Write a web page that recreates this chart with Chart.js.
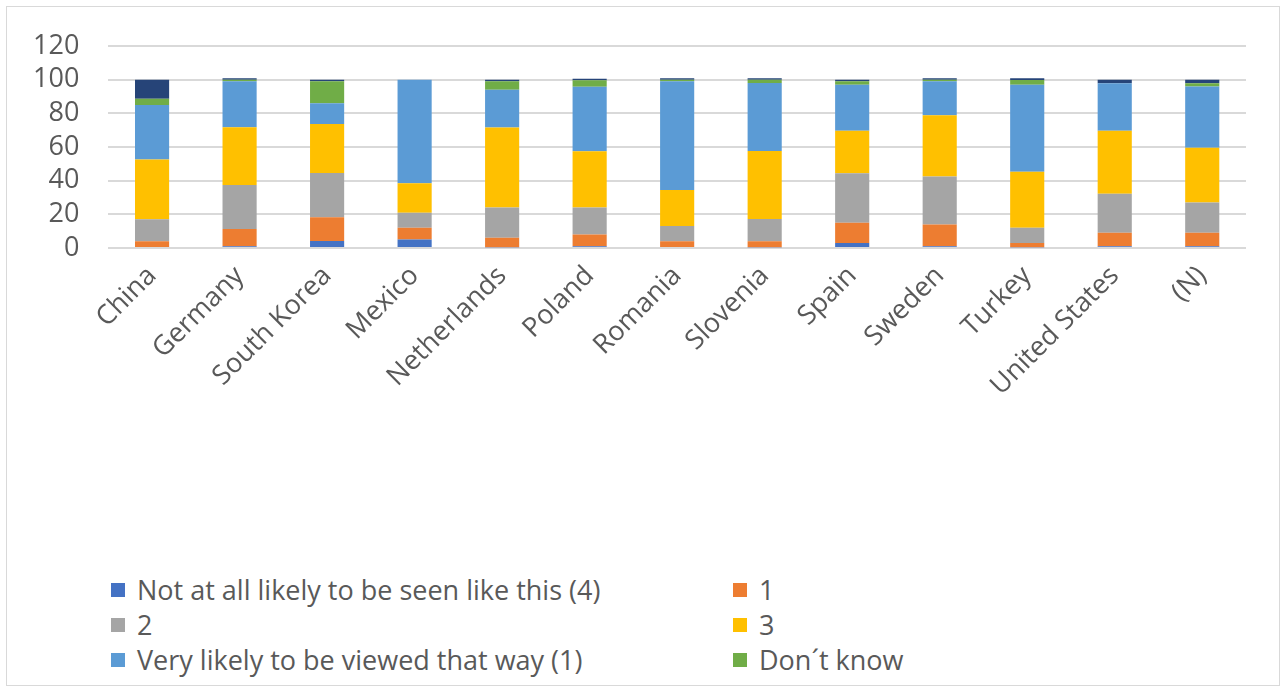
<!DOCTYPE html>
<html lang="en">
<head>
  <meta charset="UTF-8" />
  <title>Likelihood by country</title>
  <script src="https://cdn.jsdelivr.net/npm/chart.js"></script>
  <style>
    body { margin: 0; background: #fff; font-family: "Open Sans", sans-serif; }
    #wrap { position: relative; width: 1282px; height: 691px; overflow: hidden; }
    #frame { position: absolute; left: 6px; top: 6px; width: 1272px; height: 678px; border: 1px solid #d9d9d9; }
    #chart { position: absolute; left: 0; top: 0; }
    .lg { position: absolute; display: flex; align-items: center; font-size: 27px; color: #595959; white-space: nowrap; line-height: 30px; }
    .lg span.box { display: inline-block; width: 14px; height: 14px; margin-right: 12px; }
  </style>
</head>
<body>
  <div id="wrap">
    <div id="frame"></div>
    <canvas id="chart" width="1282" height="410"></canvas>
    <div id="legend"></div>
  </div>

  <script>
    const countries = ["China", "Germany", "South Korea", "Mexico", "Netherlands", "Poland", "Romania",
      "Slovenia", "Spain", "Sweden", "Turkey", "United States", "(N)"];

    const notAtAll = [0, 1, 4.2, 5, 0.5, 1, 0, 0.5, 3, 1, 0.5, 1, 1];
    const one = [4, 10.3, 14, 7, 5.6, 7, 4, 3.5, 12, 13, 2.5, 8, 8];
    const two = [13, 26.1, 26.4, 9, 18, 16, 9, 13.2, 29.4, 28.4, 9, 23.2, 18];
    const three = [35.5, 34.3, 29.1, 17.4, 47.5, 33.4, 21.4, 40.4, 25.3, 36.4, 33.3, 37.4, 32.5];
    const veryLikely = [32.5, 27.3, 12.3, 61.6, 22.4, 38.4, 64.6, 40.4, 27.3, 20.2, 51.7, 28.3, 36.4];
    const dontKnow = [3.7, 1, 13, 0, 5, 3.8, 1, 2, 2, 1, 2.8, 0, 2];
    const unlabelled = [11.3, 0.8, 1, 0, 1, 1, 0.8, 0.8, 1, 0.8, 1, 2, 2];

    const yTicks = [0, 20, 40, 60, 80, 100, 120];

    const series = [
      { label: "Not at all likely to be seen like this (4)", data: notAtAll, color: "#4472C4" },
      { label: "1", data: one, color: "#ED7D31" },
      { label: "2", data: two, color: "#A5A5A5" },
      { label: "3", data: three, color: "#FFC000" },
      { label: "Very likely to be viewed that way (1)", data: veryLikely, color: "#5B9BD5" },
      { label: "Don´t know", data: dontKnow, color: "#70AD47" },
      { label: "", data: unlabelled, color: "#264478" }
    ];

    const font = { family: "'Open Sans', sans-serif", size: 27 };

    new Chart(document.getElementById("chart"), {
      type: "bar",
      data: {
        labels: countries,
        datasets: series.map(s => ({
          label: s.label,
          data: s.data,
          backgroundColor: s.color,
          borderWidth: 0,
          barPercentage: 0.39,
          categoryPercentage: 1
        }))
      },
      options: {
        responsive: false,
        animation: false,
        layout: { padding: { top: 46, left: 4, right: 36, bottom: 4 } },
        plugins: { legend: { display: false }, tooltip: { enabled: false } },
        scales: {
          x: {
            stacked: true,
            grid: { display: false },
            border: { display: false },
            ticks: { color: "#595959", font: font, maxRotation: 45, minRotation: 45, padding: 4 }
          },
          y: {
            stacked: true,
            min: 0,
            max: 120,
            afterBuildTicks: axis => { axis.ticks = yTicks.map(v => ({ value: v })); },
            grid: { color: "#d9d9d9", lineWidth: 2, drawTicks: false },
            border: { display: false },
            ticks: { color: "#595959", font: font, padding: 29, autoSkip: false }
          }
        }
      }
    });

    // two-column legend like the original
    const legend = document.getElementById("legend");
    const cols = [111, 733];
    const rows = [590, 625, 660];
    series.filter(s => s.label).forEach((s, i) => {
      const div = document.createElement("div");
      div.className = "lg";
      div.style.left = cols[i % 2] + "px";
      div.style.top = (rows[Math.floor(i / 2)] - 15) + "px";
      div.innerHTML = `<span class="box" style="background:${s.color}"></span>${s.label}`;
      legend.appendChild(div);
    });
  </script>
</body>
</html>
